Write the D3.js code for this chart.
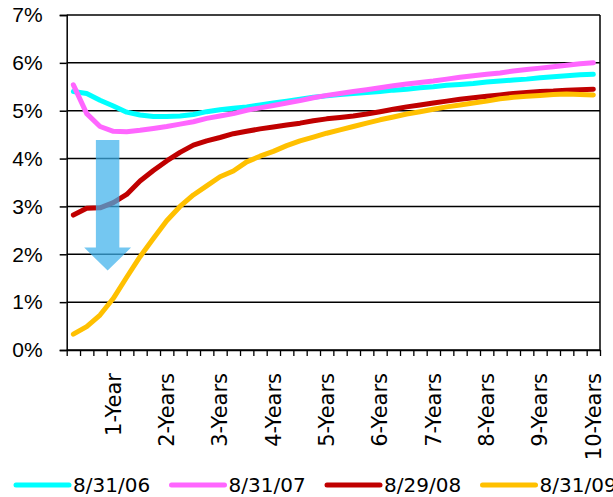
<!DOCTYPE html>
<html>
<head>
<meta charset="utf-8">
<script src="https://cdn.jsdelivr.net/npm/d3@7"></script>
<style>
  body { margin: 0; background: #fff; }
  svg { display: block; font-family: "DejaVu Sans", Verdana, sans-serif; }
</style>
</head>
<body>
<div id="chart"></div>
<script>
// maturities in months, one point per quarter
var months = d3.range(3, 121, 3);
var tickLabels = ["1-Year", "2-Years", "3-Years", "4-Years", "5-Years",
  "6-Years", "7-Years", "8-Years", "9-Years", "10-Years"];
var yTicks = [0, 1, 2, 3, 4, 5, 6, 7];

var seriesNames = ["8/31/06", "8/31/07", "8/29/08", "8/31/09"];
var seriesColors = ["#00ffff", "#ff66ff", "#c00000", "#ffc000"];

var yield06 = [5.40, 5.36, 5.22, 5.10, 4.97, 4.91, 4.88, 4.88, 4.89, 4.92,
  4.98, 5.02, 5.05, 5.08, 5.12, 5.16, 5.20, 5.24, 5.28, 5.31,
  5.34, 5.36, 5.38, 5.40, 5.43, 5.45, 5.48, 5.50, 5.53, 5.55,
  5.57, 5.60, 5.62, 5.64, 5.66, 5.69, 5.71, 5.73, 5.75, 5.76];
var yield07 = [5.54, 4.94, 4.67, 4.57, 4.56, 4.59, 4.63, 4.67, 4.72, 4.77,
  4.84, 4.89, 4.94, 5.01, 5.06, 5.11, 5.16, 5.21, 5.27, 5.32,
  5.36, 5.40, 5.44, 5.48, 5.52, 5.56, 5.59, 5.62, 5.66, 5.70,
  5.73, 5.76, 5.79, 5.83, 5.86, 5.89, 5.92, 5.95, 5.98, 6.00];
var yield08 = [2.82, 2.96, 2.97, 3.08, 3.25, 3.53, 3.75, 3.95, 4.13, 4.28,
  4.37, 4.44, 4.52, 4.57, 4.62, 4.66, 4.70, 4.74, 4.79, 4.83,
  4.86, 4.89, 4.93, 4.98, 5.03, 5.08, 5.12, 5.16, 5.20, 5.24,
  5.27, 5.30, 5.33, 5.36, 5.38, 5.40, 5.41, 5.43, 5.44, 5.45];
var yield09 = [0.33, 0.49, 0.73, 1.08, 1.52, 1.95, 2.33, 2.70, 3.00, 3.24,
  3.43, 3.62, 3.74, 3.93, 4.05, 4.15, 4.27, 4.37, 4.45, 4.53,
  4.60, 4.67, 4.74, 4.81, 4.87, 4.93, 4.98, 5.03, 5.08, 5.12,
  5.16, 5.20, 5.25, 5.28, 5.30, 5.32, 5.34, 5.35, 5.34, 5.33];

// the "rates fell" arrow, in category units (x) and percent (y)
var arrowX = 3.07, arrowShaft = 0.88, arrowHead = 1.76;
var arrowTop = 4.39, arrowNeck = 2.14, arrowTip = 1.66;

var width = 613, height = 497;
var margin = { top: 15, right: 13, bottom: 147, left: 66.7 };
var w = width - margin.left - margin.right;
var h = height - margin.top - margin.bottom;

var series = [yield06, yield07, yield08, yield09].map(function (vals, i) {
  return { name: seriesNames[i], color: seriesColors[i], values: vals };
});

var svg = d3.select("#chart").append("svg")
  .attr("width", width)
  .attr("height", height);

var g = svg.append("g")
  .attr("transform", `translate(${margin.left}, ${margin.top})`);

var x = d3.scaleBand().domain(months).range([0, w]).padding(0);
var xUnits = d3.scaleLinear().domain([0, months.length]).range([0, w]);
var y = d3.scaleLinear().domain([0, 7]).range([h, 0]);

/* gridlines */
g.append("g")
  .selectAll("line")
  .data(yTicks)
  .enter()
  .append("line")
  .attr("x1", 0)
  .attr("x2", w)
  .attr("y1", (d) => y(d))
  .attr("y2", (d) => y(d))
  .attr("stroke", "#000")
  .attr("stroke-width", 1.5);

g.append("line")
  .attr("x1", w).attr("x2", w)
  .attr("y1", 0).attr("y2", h)
  .attr("stroke", "#000")
  .attr("stroke-width", 1.5);

/* y axis */
var yAxis = g.append("g")
  .call(d3.axisLeft(y).tickValues(yTicks).tickSize(7).tickPadding(17)
    .tickFormat((d) => d + "%"));
yAxis.select(".domain").attr("stroke-width", 1.5);
yAxis.selectAll(".tick line").attr("stroke-width", 1.5);
yAxis.selectAll("text").style("font-size", "21px").attr("fill", "#000");

/* x axis tick marks at category edges */
var xTicks = g.append("g")
  .attr("transform", `translate(0, ${h})`)
  .call(d3.axisBottom(xUnits)
    .tickValues(d3.range(0, months.length + 1))
    .tickSize(6).tickSizeOuter(0).tickFormat(""));
xTicks.select(".domain").attr("stroke-width", 1.5);
xTicks.selectAll(".tick line").attr("stroke-width", 1.3);

/* x labels, one per year */
var labelled = months.filter((m) => m % 12 === 0);
g.append("g")
  .selectAll("text")
  .data(labelled)
  .enter()
  .append("text")
  .attr("transform", (d) => `translate(${x(d) + x.bandwidth() / 2}, ${h + 23}) rotate(-90)`)
  .attr("dy", "0.35em")
  .attr("text-anchor", "end")
  .style("font-size", "21px")
  .attr("fill", "#000")
  .text((d, i) => tickLabels[i]);

/* lines */
var line = d3.line()
  .x((d, i) => x(months[i]) + x.bandwidth() / 2)
  .y((d) => y(d));

g.append("g")
  .selectAll("path")
  .data(series)
  .enter()
  .append("path")
  .attr("d", (d) => line(d.values))
  .attr("fill", "none")
  .attr("stroke", (d) => d.color)
  .attr("stroke-width", 5)
  .attr("stroke-linejoin", "round")
  .attr("stroke-linecap", "round");

/* arrow */
var arrowPts = [
  [arrowX - arrowShaft, arrowTop],
  [arrowX + arrowShaft, arrowTop],
  [arrowX + arrowShaft, arrowNeck],
  [arrowX + arrowHead, arrowNeck],
  [arrowX, arrowTip],
  [arrowX - arrowHead, arrowNeck],
  [arrowX - arrowShaft, arrowNeck]
];
g.append("path")
  .attr("d", d3.line().x((d) => xUnits(d[0])).y((d) => y(d[1]))(arrowPts) + "Z")
  .attr("fill", "#3fb2ec")
  .attr("fill-opacity", 0.72);

/* legend */
var legend = svg.append("g")
  .selectAll("g")
  .data(series)
  .enter()
  .append("g")
  .attr("transform", (d, i) => `translate(${14 + i * 155.5}, 485)`);

legend.append("line")
  .attr("x1", 2).attr("x2", 55)
  .attr("stroke", (d) => d.color)
  .attr("stroke-width", 5)
  .attr("stroke-linecap", "round");

legend.append("text")
  .attr("x", 59)
  .attr("y", 7)
  .style("font-size", "20px")
  .attr("fill", "#000")
  .text((d) => d.name);
</script>
</body>
</html>
